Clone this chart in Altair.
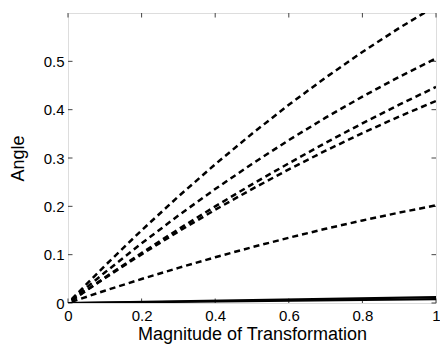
import altair as alt
import pandas as pd

xs = [0.01, 0.1, 0.2, 0.3, 0.4, 0.5, 0.6, 0.7, 0.8, 0.9, 1.0]
dash1 = [0.0079, 0.0769, 0.1504, 0.2204, 0.2870, 0.3502, 0.4100, 0.4664, 0.5194, 0.5689, 0.6150]
dash2 = [0.0064, 0.0631, 0.1234, 0.1810, 0.2358, 0.2877, 0.3370, 0.3834, 0.4270, 0.4679, 0.5060]
dash3 = [0.0053, 0.0526, 0.1035, 0.1526, 0.1999, 0.2455, 0.2890, 0.3314, 0.3717, 0.4102, 0.4470]
dash4 = [0.0052, 0.0514, 0.1007, 0.1479, 0.1929, 0.2357, 0.2765, 0.3151, 0.3515, 0.3858, 0.4180]
dash5 = [0.0026, 0.0254, 0.0496, 0.0727, 0.0946, 0.1154, 0.1350, 0.1535, 0.1708, 0.1870, 0.2020]
solid_x = [0.0, 1.0]
solid1 = [0.0, 0.012]
solid2 = [0.0, 0.008]

x_ticks = [0, 0.2, 0.4, 0.6, 0.8, 1]
y_ticks = [0, 0.1, 0.2, 0.3, 0.4, 0.5]

W, H = 368, 290
FONT = "Liberation Sans"
AX = "#444444"

dashed_rows = []
for name, ys in [("d1", dash1), ("d2", dash2), ("d3", dash3), ("d4", dash4), ("d5", dash5)]:
    for x, y in zip(xs, ys):
        dashed_rows.append({"series": name, "x": x, "y": y})
dashed_df = pd.DataFrame(dashed_rows)

solid_rows = []
for name, ys in [("s1", solid1), ("s2", solid2)]:
    for x, y in zip(solid_x, ys):
        solid_rows.append({"series": name, "x": x, "y": y})
solid_df = pd.DataFrame(solid_rows)

xscale = alt.Scale(domain=[0, 1], nice=False, zero=False)
yscale = alt.Scale(domain=[0, 0.6], nice=False, zero=False)

xaxis = alt.Axis(values=x_ticks, title="Magnitude of Transformation", grid=False,
                 ticks=False, tickSize=0, domain=False, labelPadding=5,
                 labelFont=FONT, labelFontSize=15, labelColor="black",
                 titleFont=FONT, titleFontSize=18, titleFontWeight="normal",
                 titleColor="black", titlePadding=2, labelFlush=False,
                 labelExpr="datum.value == 0 ? '0' : datum.value == 1 ? '1' : format(datum.value, '.1f')")
yaxis = alt.Axis(values=y_ticks, title="Angle", grid=False,
                 ticks=False, tickSize=0, domain=False, labelPadding=4,
                 labelFont=FONT, labelFontSize=15, labelColor="black",
                 titleFont=FONT, titleFontSize=18, titleFontWeight="normal",
                 titleColor="black", titlePadding=16, labelFlush=False,
                 labelExpr="datum.value == 0 ? '0' : format(datum.value, '.1f')")

dashed = alt.Chart(dashed_df).mark_line(
    color="black", strokeWidth=2.5, strokeDash=[6, 4], clip=True
).encode(
    x=alt.X("x:Q", scale=xscale, axis=xaxis),
    y=alt.Y("y:Q", scale=yscale, axis=yaxis),
    detail="series:N",
)

solid = alt.Chart(solid_df).mark_line(
    color="black", strokeWidth=2.2, clip=True
).encode(
    x=alt.X("x:Q", scale=xscale),
    y=alt.Y("y:Q", scale=yscale),
    detail="series:N",
)

xt_df = pd.DataFrame({"x": x_ticks})
yt_df = pd.DataFrame({"y": y_ticks})
TL = 4.5

bottom_ticks = alt.Chart(xt_df).mark_rule(color=AX, strokeWidth=1).encode(
    x=alt.X("x:Q", scale=xscale), y=alt.value(H), y2=alt.value(H - TL))
top_ticks = alt.Chart(xt_df).mark_rule(color=AX, strokeWidth=1).encode(
    x=alt.X("x:Q", scale=xscale), y=alt.value(0), y2=alt.value(TL))
left_ticks = alt.Chart(yt_df).mark_rule(color=AX, strokeWidth=1).encode(
    y=alt.Y("y:Q", scale=yscale), x=alt.value(0), x2=alt.value(TL))
right_ticks = alt.Chart(yt_df).mark_rule(color=AX, strokeWidth=1).encode(
    y=alt.Y("y:Q", scale=yscale), x=alt.value(W), x2=alt.value(W - TL))

chart = alt.layer(
    bottom_ticks, top_ticks, left_ticks, right_ticks, solid, dashed
).properties(
    width=W, height=H,
    autosize=alt.AutoSizeParams(type="none"),
    padding={"left": 60, "top": 5, "right": 4, "bottom": 41},
).configure_view(
    stroke=AX, strokeWidth=1
).configure(background="white")

chart.save("out.html", embed_options={"renderer": "svg", "actions": False})
